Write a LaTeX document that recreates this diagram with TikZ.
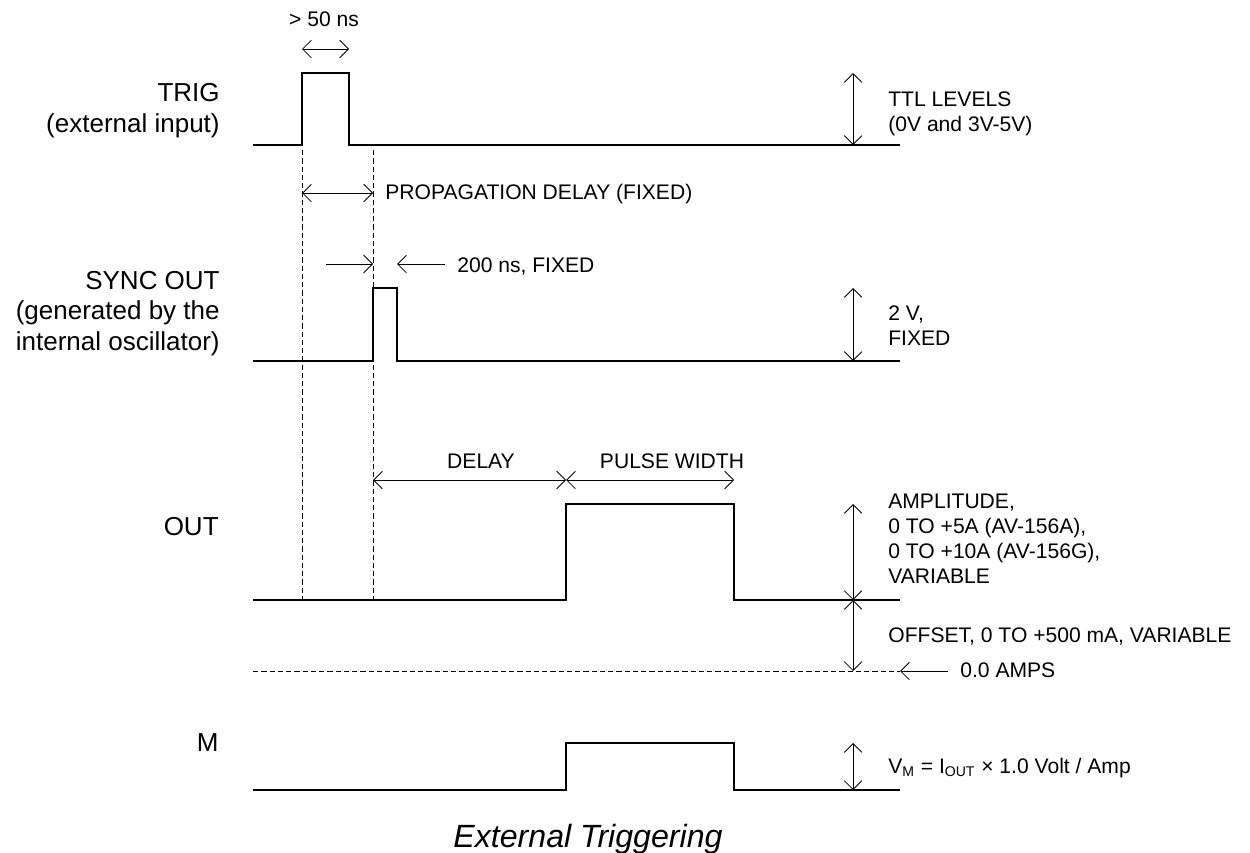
\documentclass[tikz,border=0pt]{standalone}
\usepackage{fontspec}
\setmainfont{Liberation Sans}
\usetikzlibrary{arrows.meta, positioning, calc}

\tikzset{
  wave/.style={line width=0.7pt, line join=miter},
  dim/.style={line width=0.5pt, {Straight Barb[length=5pt,width=10pt]}-{Straight Barb[length=5pt,width=10pt]}},
  ptr/.style={line width=0.5pt, -{Straight Barb[length=5pt,width=10pt]}},
  guide/.style={line width=0.5pt, dash pattern=on 3pt off 1.7pt},
  lbl/.style={font=\fontsize{12}{14.2}\selectfont, inner sep=0pt, anchor=base west, align=left},
  sig/.style={font=\fontsize{14.8}{17.4}\selectfont, inner sep=0pt, anchor=base east, align=right},
}

\begin{document}
\begin{tikzpicture}[x=0.02cm, y=-0.02cm]
  \useasboundingbox (0,0) rectangle (1250,852);

  % signal names (anchored at the last line)
  \node[sig] (trig) at (220,132.5) {TRIG\\(external input)};
  \node[sig] (sync) at (220,350.5) {SYNC OUT\\(generated by the\\internal oscillator)};
  \node[sig] (out) at (219,535) {OUT};
  \node[sig] (mon) at (219,751) {M};

  % waveforms
  \draw[wave] (253,145) -- (302,145) |- (349,73) |- (900,145);
  \draw[wave] (253,361) -- (373,361) |- (397,288) |- (900,361);
  \draw[wave] (253,600) -- (566,600) |- (734,504) |- (900,600);
  \draw[wave] (253,790) -- (566,790) |- (734,743) |- (900,790);

  % time marks
  \coordinate (ga) at (302,150);
  \coordinate (gb) at (302,600);
  \coordinate (gc) at (373,150);
  \coordinate (gd) at (373,600);
  \coordinate (za) at (253,671);
  \coordinate (zb) at (900,671);
  \draw[guide] (ga) -- (gb);
  \draw[guide] (gc) -- (gd);
  \draw[guide] (za) -- (zb);

  % horizontal dimensions
  \coordinate (wa) at (302,49);
  \coordinate (wb) at (349,49);
  \coordinate (pa) at (302,193);
  \coordinate (pb) at (373,193);
  \coordinate (sa) at (326,264);
  \coordinate (sb) at (373,264);
  \coordinate (sc) at (445,264);
  \coordinate (sd) at (397,264);
  \coordinate (da) at (373,480);
  \coordinate (db) at (566,480);
  \coordinate (dc) at (734,480);
  \draw[dim] (wa) -- (wb);
  \draw[dim] (pa) -- (pb);
  \draw[ptr] (sa) -- (sb);
  \draw[ptr] (sc) -- (sd);
  \draw[dim] (da) -- (db);
  \draw[dim] (db) -- (dc);

  % levels
  \foreach \n/\y in {ra/73, rb/145, rc/288, rd/361, re/504, rf/600, rg/671, rh/743, ri/790} {
    \coordinate (\n) at (853,\y);
  }
  \coordinate (zc) at (948,671);
  \draw[dim] (ra) -- (rb);
  \draw[dim] (rc) -- (rd);
  \draw[dim] (re) -- (rf);
  \draw[dim] (rf) -- (rg);
  \draw[dim] (rh) -- (ri);
  \draw[ptr] (zc) -- (zb);

  % labels
  \node[lbl, anchor=base] (width) at (324,27) {> 50 ns};
  \node[lbl] (prop) at (385,199) {PROPAGATION DELAY (FIXED)};
  \node[lbl] (fixed) at (457,272) {200 ns, FIXED};
  \node[lbl, anchor=base] (delay) at (481,468.5) {DELAY};
  \node[lbl, anchor=base] (pw) at (672,468.5) {PULSE WIDTH};
  \node[lbl] (ttl) at (888,131) {TTL LEVELS\\(0V and 3V-5V)};
  \node[lbl] (twov) at (888,345) {2 V,\\FIXED};
  \node[lbl] (amp) at (888,583.5) {AMPLITUDE,\\0 TO +5A (AV-156A),\\0 TO +10A (AV-156G),\\VARIABLE};
  \node[lbl] (offs) at (888,642.5) {OFFSET, 0 TO +500 mA, VARIABLE};
  \node[lbl] (zero) at (960,677.5) {0.0 AMPS};
  \node[lbl] (vm) at (888,773.5) {V\textsubscript{M} = I\textsubscript{OUT} × 1.0 Volt / Amp};

  \node[font=\fontsize{18.3}{22}\selectfont\itshape, inner sep=0pt, anchor=base] (title) at (588,847) {External Triggering};
\end{tikzpicture}
\end{document}
